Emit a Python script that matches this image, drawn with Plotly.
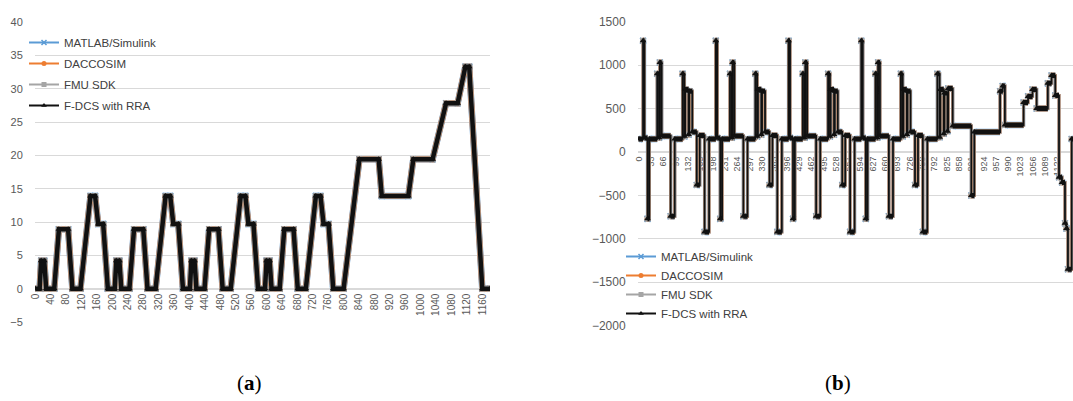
import plotly.graph_objects as go

# ---------------- (a) data: breakpoints (time step, value) ----------------
a_time = [0, 11, 15, 23, 28, 49, 61, 85, 96, 117, 143, 155, 163, 176, 188,
          206, 210, 218, 223, 244, 256, 280, 291, 312, 338, 350, 358, 371, 383,
          401, 405, 413, 418, 439, 451, 475, 486, 507, 533, 545, 553, 566, 578,
          596, 600, 608, 613, 634, 646, 670, 681, 702, 728, 740, 748, 761, 773,
          800, 841, 891, 899, 968, 981, 1031, 1066, 1096, 1116, 1126, 1160, 1180]
a_value = [0, 0, 4.2, 4.2, 0, 0, 8.9, 8.9, 0, 0, 13.9, 13.9, 9.7, 9.7, 0,
           0, 4.2, 4.2, 0, 0, 8.9, 8.9, 0, 0, 13.9, 13.9, 9.7, 9.7, 0,
           0, 4.2, 4.2, 0, 0, 8.9, 8.9, 0, 0, 13.9, 13.9, 9.7, 9.7, 0,
           0, 4.2, 4.2, 0, 0, 8.9, 8.9, 0, 0, 13.9, 13.9, 9.7, 9.7, 0,
           0, 19.4, 19.4, 13.9, 13.9, 19.4, 19.4, 27.8, 27.8, 33.3, 33.3, 0, 0]
a_ticks = [0, 40, 80, 120, 160, 200, 240, 280, 320, 360, 400, 440, 480, 520,
           560, 600, 640, 680, 720, 760, 800, 840, 880, 920, 960, 1000, 1040,
           1080, 1120, 1160]

# ---------------- (b) data: step segments (start step, level) ----------------
b_start = [0, 11, 15, 23, 28, 49, 54, 56, 61, 85, 96, 117, 122, 124, 133, 135, 143, 155, 163, 176, 188,
           206, 210, 218, 223, 244, 249, 251, 256, 280, 291, 312, 317, 319, 328, 330, 338, 350, 358, 371, 383,
           401, 405, 413, 418, 439, 444, 446, 451, 475, 486, 507, 512, 514, 523, 525, 533, 545, 553, 566, 578,
           596, 600, 608, 613, 634, 639, 641, 646, 670, 681, 702, 707, 709, 718, 720, 728, 740, 748, 761, 773,
           800, 806, 808, 817, 819, 827, 829, 841, 891, 899, 968, 975, 981, 1031, 1043, 1055, 1066,
           1096, 1106, 1116, 1126, 1134, 1142, 1146, 1150, 1160, 1180]
b_level = [150, 1280, 160, -770, 150, 900, 165, 1030, 185, -740, 150, 900, 180, 720, 200, 700, 230, -380, 190, -920, 150,
           1280, 160, -770, 150, 900, 165, 1030, 185, -740, 150, 900, 180, 720, 200, 700, 230, -380, 190, -920, 150,
           1280, 160, -770, 150, 900, 165, 1030, 185, -740, 150, 900, 180, 720, 200, 700, 230, -380, 190, -920, 150,
           1280, 160, -770, 150, 900, 165, 1030, 185, -740, 150, 900, 180, 720, 200, 700, 230, -380, 190, -920, 150,
           900, 170, 720, 210, 680, 240, 730, 300, -500, 230, 700, 760, 310, 570, 640, 720, 500,
           790, 880, 650, -290, -350, -820, -880, -1350, 150, 150]
b_ticks = [0, 33, 66, 99, 132, 165, 198, 231, 264, 297, 330, 363, 396, 429, 462,
           495, 528, 561, 594, 627, 660, 693, 726, 759, 792, 825, 858, 891, 924,
           957, 990, 1023, 1056, 1089, 1122, 1155]

series_names = ["MATLAB/Simulink", "DACCOSIM", "FMU SDK", "F-DCS with RRA"]
series_colors = ["#5b9bd5", "#ed7d31", "#a5a5a5", "#111111"]
series_symbols = ["x-thin", "circle", "square", "triangle-up"]
a_widths = [6.5, 6.0, 5.5, 4.5]
b_widths = [3.3, 3.0, 2.6, 1.8]
b_band = [6.5, 6.0, 5.5, 5.0]

W, H = 1073, 401


def px(x):
    return x / W


def py(y):
    return 1 - y / H


def marker_for(i, size):
    col = series_colors[i]
    return dict(symbol=series_symbols[i], size=size, color=col,
                line=dict(color=col, width=1.5 if i == 0 else 0))


# length of each plateau in (b), taken from the segment starts
b_len = [b_start[k + 1] - b_start[k] for k in range(len(b_start) - 1)] + [0]

fig = go.Figure()

for i, name in enumerate(series_names):
    fig.add_trace(go.Scatter(
        x=a_time, y=a_value, mode="lines+markers", name=name, showlegend=False,
        line=dict(color=series_colors[i], width=a_widths[i]), marker=marker_for(i, 6),
        xaxis="x", yaxis="y"))

for i, name in enumerate(series_names):
    fig.add_trace(go.Scatter(
        x=b_start, y=b_level, mode="lines+markers", name=name, showlegend=False,
        line=dict(color=series_colors[i], width=b_widths[i], shape="hv"), marker=marker_for(i, 6),
        error_x=dict(type="data", symmetric=False, array=b_len, arrayminus=[0] * len(b_len),
                     thickness=b_band[i], width=0, color=series_colors[i]),
        xaxis="x2", yaxis="y2"))

# legend entries (thin line + marker, as in the original legend)
for lg, ax, ay in (("legend", "x", "y"), ("legend2", "x2", "y2")):
    for i, name in enumerate(series_names):
        fig.add_trace(go.Scatter(
            x=[None], y=[None], mode="lines+markers", name=name,
            line=dict(color=series_colors[i], width=2), marker=marker_for(i, 5),
            xaxis=ax, yaxis=ay, legend=lg, legendgroup=lg + str(i), showlegend=True))

tick_font_color = "#595959"
grid_color = "#d9d9d9"

ya_dom = [py(322), py(22)]
yb_dom = [py(325.7), py(21.7)]
ya_range = [-5, 40]
yb_range = [-2000, 1500]
pos_a = ya_dom[0] + (0 - ya_range[0]) / (ya_range[1] - ya_range[0]) * (ya_dom[1] - ya_dom[0])
pos_b = yb_dom[0] + (0 - yb_range[0]) / (yb_range[1] - yb_range[0]) * (yb_dom[1] - yb_dom[0])

fig.update_layout(
    width=W, height=H, autosize=False,
    margin=dict(l=0, r=0, t=0, b=0, pad=0, autoexpand=False),
    paper_bgcolor="white", plot_bgcolor="white",
    font=dict(family="Liberation Sans, Arial, sans-serif", color="#404040"),
    xaxis=dict(domain=[px(35), px(490)], range=[-1, 1180], anchor="free", position=pos_a,
               tickmode="array", tickvals=a_ticks, ticktext=[str(t) for t in a_ticks],
               tickangle=-90, tickfont=dict(size=10, color=tick_font_color),
               showgrid=False, zeroline=False, showline=True, linecolor=grid_color,
               ticks="", layer="below traces", automargin=False),
    yaxis=dict(domain=ya_dom, range=ya_range, anchor="x", dtick=5, tick0=0,
               showgrid=True, gridcolor=grid_color, zeroline=False, showline=False,
               ticks="outside", ticklen=9, tickcolor="rgba(0,0,0,0)",
               tickfont=dict(size=11, color=tick_font_color), automargin=False),
    xaxis2=dict(domain=[px(638), 1.0], range=[-2.5, 1163.5], anchor="free", position=pos_b,
                tickmode="array", tickvals=b_ticks, ticktext=[str(t) for t in b_ticks],
                tickangle=-90, tickfont=dict(size=9, color=tick_font_color),
                showgrid=False, zeroline=False, showline=True, linecolor=grid_color,
                ticks="", layer="below traces", automargin=False),
    yaxis2=dict(domain=yb_dom, range=yb_range, anchor="x2", dtick=500, tick0=0,
                showgrid=True, gridcolor=grid_color, zeroline=False, showline=False,
                ticks="outside", ticklen=9, tickcolor="rgba(0,0,0,0)",
                tickfont=dict(size=12, color=tick_font_color), automargin=False),
    legend=dict(x=px(24), y=py(28), xanchor="left", yanchor="top",
                bgcolor="rgba(0,0,0,0)", font=dict(size=11.5, color="#404040"),
                tracegroupgap=2, itemwidth=30),
    legend2=dict(x=px(621), y=py(242), xanchor="left", yanchor="top",
                 bgcolor="rgba(0,0,0,0)", font=dict(size=11.5, color="#404040"),
                 tracegroupgap=0, itemwidth=30),
    showlegend=True,
    annotations=[
        dict(text="(<b>a</b>)", x=px(249), y=py(383), xref="paper", yref="paper",
             xanchor="center", yanchor="middle", showarrow=False,
             font=dict(family="Liberation Serif, serif", size=21, color="#000000")),
        dict(text="(<b>b</b>)", x=px(838), y=py(383), xref="paper", yref="paper",
             xanchor="center", yanchor="middle", showarrow=False,
             font=dict(family="Liberation Serif, serif", size=21, color="#000000")),
    ],
)

# remove the browser's default page margin so the 1073x401 figure fills the window
page_css = ("document.documentElement.style.margin='0';document.body.style.margin='0';"
            "document.documentElement.style.overflow='hidden';document.body.style.overflow='hidden';")
fig.write_html("out.html", post_script=page_css, config={"displayModeBar": False})
